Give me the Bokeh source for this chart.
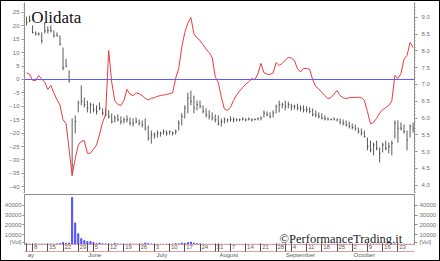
from bokeh.plotting import figure
from bokeh.layouts import column
from bokeh.models import (Range1d, LinearAxis, FixedTicker, Span, Label,
                          ColumnDataSource, PrintfTickFormatter)
from bokeh.embed import file_html
from bokeh.resources import INLINE

# ---------------- data (one value per trading day, 4 May - 30 Oct 2000) ----------------
high = [9.02, 9.05, 8.76, 8.58, 8.55, 8.55, 8.85, 8.73, 8.76, 8.61,
        8.55, 8.46, 8.10, 7.77, 7.42, 5.99, 6.08, 6.52, 6.97, 6.61,
        6.52, 6.46, 6.43, 6.38, 6.46, 6.29, 6.29, 6.23, 6.14, 6.08,
        6.11, 6.05, 6.02, 6.08, 6.02, 5.99, 6.02, 5.96, 5.93, 5.99,
        5.78, 5.63, 5.57, 5.63, 5.60, 5.66, 5.63, 5.63, 5.60, 5.66,
        5.93, 6.14, 6.38, 6.76, 6.82, 6.67, 6.52, 6.52, 6.38, 6.29,
        6.23, 6.17, 6.11, 6.08, 5.99, 6.02, 5.99, 6.05, 6.02, 5.99,
        5.99, 6.02, 5.99, 6.02, 5.99, 5.99, 6.02, 6.05, 6.23, 6.20,
        6.17, 6.23, 6.40, 6.52, 6.46, 6.52, 6.49, 6.43, 6.40, 6.43,
        6.38, 6.38, 6.35, 6.32, 6.29, 6.23, 6.17, 6.14, 6.08, 6.02,
        5.99, 6.02, 5.99, 5.99, 5.96, 5.93, 5.90, 5.84, 5.81, 5.72,
        5.69, 5.63, 5.42, 5.33, 5.27, 5.33, 5.13, 5.27, 5.33, 5.27,
        5.33, 5.93, 5.93, 5.87, 5.81, 5.63, 5.81, 5.87]
low = [8.76, 8.85, 8.52, 8.46, 8.46, 8.22, 8.52, 8.52, 8.55, 8.40,
       8.43, 8.16, 7.42, 7.51, 7.06, 4.29, 5.54, 6.17, 6.38, 6.32,
       6.17, 6.14, 6.17, 6.11, 6.23, 6.08, 6.05, 5.99, 5.84, 5.87,
       5.90, 5.81, 5.84, 5.87, 5.78, 5.75, 5.84, 5.78, 5.72, 5.63,
       5.33, 5.24, 5.39, 5.42, 5.45, 5.51, 5.48, 5.51, 5.48, 5.51,
       5.63, 5.78, 5.99, 6.14, 6.38, 6.14, 6.23, 6.29, 6.14, 6.02,
       5.96, 5.93, 5.87, 5.78, 5.75, 5.84, 5.87, 5.90, 5.87, 5.90,
       5.90, 5.93, 5.90, 5.93, 5.90, 5.93, 5.93, 5.93, 6.02, 6.05,
       5.99, 6.02, 6.14, 6.17, 6.29, 6.23, 6.29, 6.23, 6.26, 6.23,
       6.20, 6.17, 6.17, 6.14, 6.05, 6.02, 5.99, 5.96, 5.93, 5.93,
       5.93, 5.93, 5.90, 5.81, 5.78, 5.75, 5.69, 5.66, 5.63, 5.54,
       5.48, 5.42, 5.04, 4.98, 4.89, 5.04, 4.68, 4.98, 5.04, 4.95,
       4.89, 5.39, 5.27, 5.63, 5.54, 5.04, 5.42, 5.57]
close = [8.85, 8.90, 8.55, 8.50, 8.50, 8.30, 8.60, 8.60, 8.60, 8.45,
         8.45, 8.20, 7.50, 7.55, 7.10, 4.60, 5.90, 6.45, 6.50, 6.40,
         6.30, 6.40, 6.25, 6.20, 6.30, 6.15, 6.10, 6.05, 5.90, 6.00,
         5.95, 5.90, 5.95, 5.95, 5.85, 5.85, 5.90, 5.85, 5.80, 5.70,
         5.40, 5.50, 5.50, 5.55, 5.55, 5.60, 5.55, 5.60, 5.55, 5.60,
         5.85, 6.05, 6.30, 6.60, 6.50, 6.30, 6.40, 6.35, 6.20, 6.10,
         6.05, 6.00, 5.95, 5.85, 5.90, 5.95, 5.95, 5.95, 5.95, 5.95,
         5.95, 5.97, 5.95, 5.97, 5.95, 5.96, 5.98, 6.00, 6.15, 6.10,
         6.05, 6.15, 6.35, 6.40, 6.40, 6.35, 6.40, 6.35, 6.35, 6.30,
         6.30, 6.25, 6.25, 6.20, 6.10, 6.10, 6.05, 6.00, 5.98, 5.97,
         5.96, 5.97, 5.95, 5.88, 5.85, 5.80, 5.75, 5.72, 5.68, 5.60,
         5.55, 5.45, 5.15, 5.05, 5.20, 5.10, 4.95, 5.20, 5.10, 5.15,
         5.25, 5.85, 5.70, 5.70, 5.60, 5.35, 5.75, 5.70]
oscillator = [2.5, 2.0, -0.3, -0.4, 1.5, 0.3, -1.0, -3.7, -2.2, -5.0,
              -7.5, -9.5, -15.0, -16.4, -26.0, -35.8, -29.5, -24.5, -23.0, -22.8,
              -27.5, -27.5, -26.0, -24.5, -20.5, -16.0, -13.0, 10.8, -1.0, -8.0,
              -9.3, -9.7, -7.8, -3.7, -5.5, -6.0, -5.0, -5.3, -6.0, -7.0,
              -7.6, -7.0, -6.8, -6.3, -6.0, -5.8, -5.6, -5.3, -5.0, 0.5,
              4.0, 12.0, 17.5, 21.0, 23.1, 17.0, 15.5, 14.6, 13.0, 11.3,
              10.0, 8.2, 1.0, -1.1, -6.5, -11.0, -11.5, -10.4, -7.8, -5.8,
              -4.3, -3.0, -1.8, -0.8, 0.3, 0.0, 2.0, 6.0, 2.5, 2.0,
              1.9, 2.4, 6.3, 5.2, 6.0, 7.2, 8.2, 8.0, 7.1, 4.0,
              2.8, 4.1, 4.1, 3.8, 0.0, -2.6, -3.5, -4.8, -6.0, -7.1,
              -6.8, -5.5, -4.1, -6.0, -6.8, -7.1, -6.8, -6.7, -6.7, -6.6,
              -6.8, -7.8, -12.0, -16.5, -16.0, -14.5, -12.5, -11.2, -10.5, -9.7,
              -8.0, 1.5, 0.4, 2.2, 7.5, 9.0, 13.8, 11.9]
volume = [800, 600, 500, 700, 400, 600, 500, 400, 600, 500,
          700, 900, 2000, 1200, 1500, 48000, 22000, 11000, 6000, 4000,
          3000, 3000, 2000, 1000, 1500, 800, 700, 600, 500, 1200,
          600, 500, 400, 500, 700, 400, 500, 400, 600, 1500,
          900, 600, 500, 400, 400, 300, 400, 300, 500, 1000,
          700, 1500, 1000, 2000, 2500, 1500, 1000, 600, 500, 400,
          300, 400, 300, 300, 400, 300, 200, 300, 200, 300,
          200, 200, 300, 200, 200, 300, 200, 400, 300, 300,
          200, 300, 400, 500, 300, 300, 200, 300, 200, 200,
          300, 200, 200, 300, 200, 300, 200, 300, 200, 200,
          200, 300, 200, 200, 300, 200, 300, 300, 200, 300,
          300, 400, 600, 500, 400, 300, 500, 400, 300, 400,
          400, 700, 600, 300, 400, 500, 400, 300]

# weekly date ticks (trading-day index of each Monday) and their labels
week_idx = [2, 7, 12, 17, 22, 27, 32, 37, 42, 47, 52, 57, 62, 67, 72, 77,
            82, 87, 92, 97, 102, 107, 112, 117, 122]
week_labels = ["8", "15", "22", "29", "5", "12", "19", "26", "3", "10", "17",
               "24", "31", "7", "14", "21", "28", "4", "11", "18", "25", "2",
               "9", "16", "23"]
month_idx = [0, 20, 42, 63, 85, 107]
month_labels = ["ay", "June", "July", "August", "September", "October"]

osc_ticks = [25, 20, 15, 10, 5, 0, -5, -10, -15, -20, -25, -30, -35, -40]
price_ticks = [9.0, 8.5, 8.0, 7.5, 7.0, 6.5, 6.0, 5.5, 5.0, 4.5, 4.0]
vol_ticks = [10000, 20000, 30000, 40000]
vol_tag = "[Vol]"

# ---------------- styling helpers ----------------
AX_FONT = "Liberation Sans"
AX_COLOR = "#707070"
LINE_GREY = "#8c8c8c"


def style_axis(ax):
    ax.major_label_text_font = AX_FONT
    ax.major_label_text_font_size = "6px"
    ax.major_label_text_color = AX_COLOR
    ax.axis_line_color = LINE_GREY
    ax.major_tick_line_color = LINE_GREY
    ax.minor_tick_line_color = "#a0a0a0"
    ax.major_tick_in = 0
    ax.minor_tick_in = 0


n = len(high)
idx = list(range(n))
src = ColumnDataSource(dict(x=idx, xr=[i + 0.35 for i in idx], high=high,
                            low=low, close=close, osc=oscillator, vol=volume))

xr = Range1d(-0.65, 127.45)

# ---------------- main panel ----------------
p1 = figure(width=438, height=192, x_range=xr, y_range=Range1d(-42.5, 28.7),
            x_axis_type=None, y_axis_type=None, output_backend="svg",
            toolbar_location=None, min_border_left=22, min_border_right=24,
            min_border_top=1, min_border_bottom=0)
p1.outline_line_color = None
p1.extra_y_ranges = {"price": Range1d(3.756, 9.44)}

lax = LinearAxis(ticker=FixedTicker(ticks=osc_ticks,
                                    minor_ticks=list(range(-42, 29))))
style_axis(lax)
lax.major_tick_out = 3
lax.minor_tick_out = 1
lax.major_label_standoff = 2
p1.add_layout(lax, "left")

price_minor = [round(4.0 + 0.1 * k, 1) for k in range(-2, 55)]
rax = LinearAxis(y_range_name="price",
                 ticker=FixedTicker(ticks=price_ticks, minor_ticks=price_minor),
                 formatter=PrintfTickFormatter(format="%.1f"))
style_axis(rax)
rax.major_tick_out = 3
rax.minor_tick_out = 1
rax.major_label_standoff = 4
p1.add_layout(rax, "right")

p1.add_layout(Span(location=0, dimension="width", line_color="#5c5cff",
                   line_width=1))

p1.segment(x0="x", y0="low", x1="x", y1="high", source=src,
           y_range_name="price", line_color="#303030", line_width=0.8)
p1.segment(x0="x", y0="close", x1="xr", y1="close", source=src,
           y_range_name="price", line_color="#303030", line_width=0.8)
p1.line(x="x", y="osc", source=src, line_color="#ee3a3a", line_width=1)

p1.add_layout(Label(x=1.6, y=23.1, text="Olidata", text_font="Liberation Serif",
                    text_font_size="17px", text_color="#111111",
                    text_baseline="alphabetic"))

# ---------------- volume panel ----------------
p2 = figure(width=438, height=67, x_range=xr, y_range=Range1d(0, 51000),
            x_axis_type=None, y_axis_type=None, output_backend="svg",
            toolbar_location=None, min_border_left=22, min_border_right=24,
            min_border_top=1, min_border_bottom=15)
p2.outline_line_color = LINE_GREY

tag_pos = 2500
for side, out, stand in (("left", 2, 1), ("right", 3, 2)):
    va = LinearAxis(ticker=FixedTicker(ticks=[tag_pos] + vol_ticks),
                    major_label_overrides={tag_pos: vol_tag})
    style_axis(va)
    va.major_tick_out = out
    va.major_label_standoff = stand
    p2.add_layout(va, side)

p2.vbar(x="x", top="vol", width=0.35, source=src, color="#5050ff")

# date axis: labels sit just right of each weekly tick mark
wk_pos = [i + 0.45 + 0.55 * len(s) for i, s in zip(week_idx, week_labels)]
dax = LinearAxis(ticker=FixedTicker(ticks=wk_pos),
                 major_label_overrides={p: s for p, s in zip(wk_pos, week_labels)})
style_axis(dax)
dax.axis_line_color = "#e0a0a0"
dax.major_tick_line_color = None
dax.minor_tick_line_color = None
dax.major_tick_out = 0
dax.minor_tick_out = 0
dax.major_label_standoff = 0
dax.major_label_text_color = "#606060"
p2.add_layout(dax, "below")

# month axis: its inward minor ticks draw the weekly marks of the date row
mo_pos = [i + 0.45 + 0.5 * len(s) for i, s in zip(month_idx, month_labels)]
max_ = LinearAxis(ticker=FixedTicker(ticks=mo_pos,
                                     minor_ticks=sorted(set(week_idx + month_idx))),
                  major_label_overrides={p: s for p, s in zip(mo_pos, month_labels)})
style_axis(max_)
max_.axis_line_color = "#e0a0a0"
max_.major_tick_line_color = None
max_.major_tick_out = 0
max_.minor_tick_out = 0
max_.minor_tick_in = 8
max_.minor_tick_line_color = "#505050"
max_.major_label_standoff = 0
max_.major_label_text_color = "#606060"
p2.add_layout(max_, "below")

p2.add_layout(Label(x=123.4, y=5500, text="\u00a9PerformanceTrading.it",
                    text_font="Liberation Serif", text_font_size="12.5px",
                    text_color="#1a1a1a", text_align="right",
                    text_baseline="alphabetic"))

layout = column(p1, p2, styles={"border": "1px solid black"})

open("out.html", "w").write(file_html(layout, INLINE))
